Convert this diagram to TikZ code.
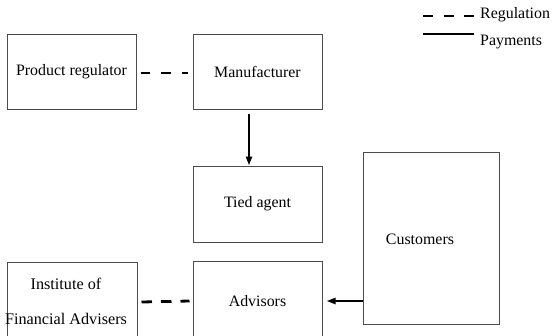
\documentclass[tikz,border=0pt]{standalone}
\usepackage{fontspec}
\setmainfont{Liberation Serif}
\usetikzlibrary{arrows.meta}
\begin{document}
\begin{tikzpicture}[x=1pt,y=-1pt,
  box/.style={draw=black!70, line width=1pt, rectangle, inner sep=0pt, align=center,
    font=\fontsize{15.9}{19}\selectfont},
  lbl/.style={inner sep=0pt, align=center, font=\fontsize{15.9}{19}\selectfont},
  reg/.style={line width=2.8pt, dash pattern=on 9.5pt off 11pt},
  pay/.style={line width=2.6pt, -{Triangle[length=9pt,width=6pt]}},
  legline/.style={line width=2.8pt}]
\useasboundingbox (0,0) rectangle (553,335);
\clip (0,0) rectangle (553,335);
% boxes
\node[box, minimum width=129pt, minimum height=75pt] (prod) at (71.5,71.5) {Product regulator};
\node[box, minimum width=129pt, minimum height=75pt] (manu) at (257.5,71.5) {Manufacturer};
\node[box, minimum width=129pt, minimum height=76pt] (tied) at (257.5,204) {Tied agent};
\node[box, minimum width=136pt, minimum height=172pt] (cust) at (431,238) {};
\node[lbl] (custt) at (420,239) {Customers};
\node[box, minimum width=130pt, minimum height=80pt] (inst) at (72,302) {};
\node[lbl, font=\fontsize{16.2}{35}\selectfont] (instt) at (66,301) {Institute of\\Financial Advisers};
\node[box, minimum width=129pt, minimum height=80pt] (adv) at (257.5,301) {Advisors};
% connectors
\draw[reg] ([xshift=4pt,yshift=-1.5pt]prod.east) -- ([xshift=-5pt,yshift=-1.5pt]manu.west);
\draw[reg, dash pattern=on 10.5pt off 9pt] ([xshift=4pt]inst.east) -- ([xshift=-3pt]adv.west);
\draw[pay] ([xshift=-8.5pt,yshift=-4pt]manu.south) -- ([xshift=-8.5pt]tied.north);
\draw[pay] (cust.west |- adv.east) -- ([xshift=4pt]adv.east);
% legend
\coordinate (r1) at (423,16);
\coordinate (r2) at (474,16);
\coordinate (p1) at (423,34);
\coordinate (p2) at (474,34);
\draw[reg, dash pattern=on 10pt off 10.5pt] (r1) -- (r2);
\draw[legline] (p1) -- (p2);
\node[lbl, anchor=west] (regt) at (480,15) {Regulation};
\node[lbl, anchor=west] (payt) at (480,42) {Payments};
\end{tikzpicture}
\end{document}
